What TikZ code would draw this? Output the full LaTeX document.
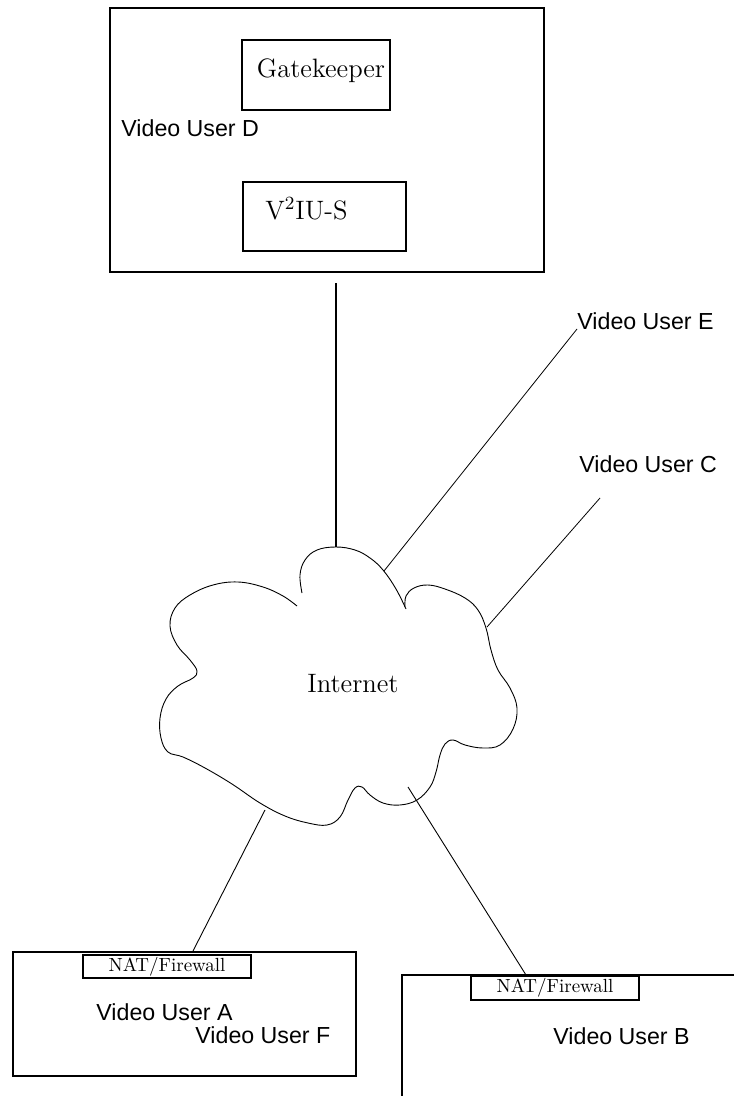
\documentclass[tikz,border=0pt]{standalone}
\usepackage{fontspec}
\newfontfamily\arialfont{Liberation Sans}
\usetikzlibrary{calc,positioning}

\tikzset{
    sitebox/.style={draw, line width=1pt, inner sep=0pt},
    natbox/.style={draw, line width=1pt, minimum width=84pt, minimum height=11.5pt, inner sep=0pt, font=\fontsize{9.5}{11}\selectfont},
    usertext/.style={font=\arialfont\fontsize{11.6}{13}\selectfont, inner sep=0pt},
    bigtext/.style={font=\fontsize{13.3}{16}\selectfont, inner sep=0pt},
    wire/.style={line width=0.45pt}
}

\begin{document}
\begin{tikzpicture}[x=0.5pt, y=-0.5pt]
    \useasboundingbox (0, 0) rectangle (733, 1096);

    \node[sitebox, minimum width=217pt, minimum height=132pt] (siteD) at (327, 140) {};
    \node[sitebox, minimum width=74pt, minimum height=35pt] (gkbox) at (316, 75) {};
    \node[bigtext, anchor=base] (gk) at (321, 77.5) {Gatekeeper};
    \node[sitebox, minimum width=81.5pt, minimum height=34.5pt] (v2box) at (324.5, 216.5) {};
    \node[bigtext, anchor=base west] (v2) at (265, 220) {V\textsuperscript{2}IU-S};
    \node[usertext, anchor=base west] (userD) at (121, 137) {Video User D};

    \draw[wire] plot[smooth, tension=0.65] coordinates {
        (405, 607) (406, 596) (414, 588) (428, 585) (445, 589) (465, 598) (478, 610)
        (486, 628) (491, 650) (498, 670) (510, 688) (517, 708) (513, 729) (500, 745)
        (483, 748) (465, 745) (453, 740) (445, 744) (440, 755) (436, 772) (430, 787)
        (417, 800) (400, 805) (383, 803) (370, 795) (362, 787) (355, 788) (348, 800)
        (340, 817) (327, 825) (308, 823) (285, 816) (260, 803) (232, 784) (205, 768)
        (183, 757) (168, 752) (161, 738) (160, 718) (166, 699) (178, 686) (193, 678)
        (197, 671) (190, 660) (177, 645) (170, 626) (175, 608) (190, 595) (213, 585)
        (238, 582) (263, 587) (283, 596) (297, 606)};
    \draw[wire] plot[smooth, tension=0.65] coordinates {
        (302, 593) (300, 575) (305, 560) (317, 550) (336, 547) (355, 550) (370, 558)
        (383, 570) (396, 589) (406, 609)};
    \node[bigtext, anchor=base] (net) at (353, 692) {Internet};

    \coordinate (netN) at (336, 547);
    \coordinate (netE) at (384, 571);
    \coordinate (netC) at (487, 627);
    \coordinate (netA) at (265, 810);
    \coordinate (netB) at (408, 787);
    \coordinate (cEnd) at (600, 498);

    \node[usertext, anchor=base west] (userE) at (577, 329) {Video User E};
    \node[usertext, anchor=base west] (userC) at (579, 472) {Video User C};

    \node[sitebox, minimum width=171.5pt, minimum height=62pt] (siteA) at (184.5, 1014) {};
    \node[natbox] (natA) at (167, 966.5) {NAT/Firewall};
    \node[usertext, anchor=base west] (userA) at (96, 1020) {Video User A};
    \node[usertext, anchor=base west] (userF) at (195, 1043) {Video User F};

    \draw[line width=1pt] (740, 975) -| (402, 1100);
    \node[natbox, minimum height=12pt] (natB) at (555, 988) {NAT/Firewall};
    \node[usertext, anchor=base west] (userB) at (553, 1044) {Video User B};

    \draw[line width=0.9pt] (netN) -- ($(siteD.south -| netN) + (0, 10)$);
    \draw[wire, line width=0.4pt] (netE) -- (userE.base west);
    \draw[wire, line width=0.4pt] (netC) -- (cEnd);
    \draw[wire] (netA) -- ([xshift=4.25pt]siteA.north);
    \draw[wire] (netB) -- ([xshift=-14.5pt]natB.north);
\end{tikzpicture}
\end{document}
